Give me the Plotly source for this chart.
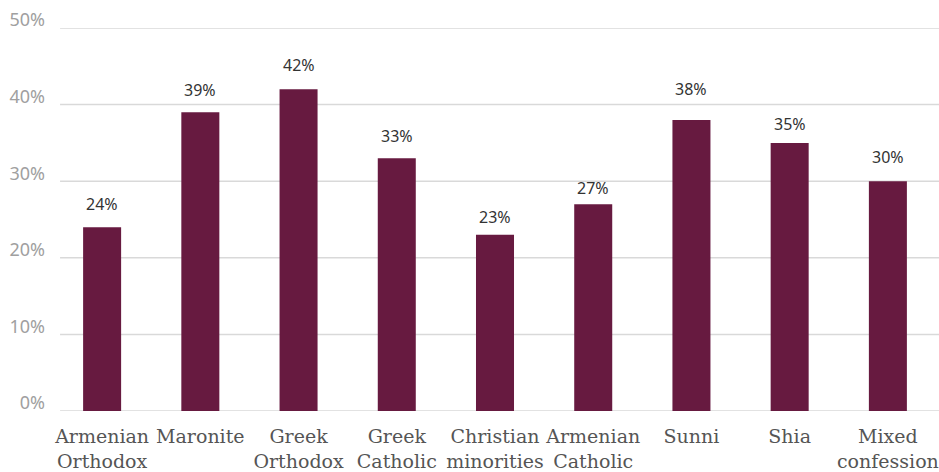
import plotly.graph_objects as go

categories = ["Armenian<br>Orthodox", "Maronite", "Greek<br>Orthodox", "Greek<br>Catholic",
              "Christian<br>minorities", "Armenian<br>Catholic", "Sunni", "Shia", "Mixed<br>confession"]
values = [24, 39, 42, 33, 23, 27, 38, 35, 30]
y_ticks = [0, 10, 20, 30, 40, 50]

# pixel gap between each bar top and the centre of its value label
label_gap_px = [23.5, 22.5, 24.5, 22.5, 17.5, 16.5, 30.5, 18.5, 24.5]

BAR = "#671a40"
GRID = "#d9d9d9"

fig = go.Figure()
fig.add_trace(go.Bar(x=categories, y=values, marker_color=BAR, marker_line_width=0,
                     hoverinfo="skip"))

# value labels above each bar
for c, v, g in zip(categories, values, label_gap_px):
    fig.add_annotation(x=c, y=v, text=f"{v}%", showarrow=False, yanchor="middle",
                       yshift=g, font=dict(family="Noto Sans", size=16, color="#333333"))

# horizontal gridlines
for t in y_ticks:
    fig.add_shape(type="line", xref="paper", yref="y", x0=0.008, x1=1.003, y0=t, y1=t,
                  line=dict(color=GRID, width=1.5), layer="below")

fig.update_layout(
    width=939, height=472,
    margin=dict(l=53, r=2, t=28, b=61),
    plot_bgcolor="white", paper_bgcolor="white",
    bargap=0.613,
    showlegend=False,
    xaxis=dict(showgrid=False, showline=False, ticks="", ticklabelstandoff=12,
               tickangle=0, automargin=False,
               tickfont=dict(family="DejaVu Serif", size=19, color="#555555")),
    yaxis=dict(range=[0, 50], tickvals=y_ticks, ticktext=[f"{t}%" for t in y_ticks],
               showgrid=False, zeroline=False, showline=False, ticks="",
               automargin=False, ticklabelstandoff=7, ticklabelshift=-8,
               tickfont=dict(family="Noto Sans", size=18, color="#a0a0a0")),
)

fig.write_html("out.html")
